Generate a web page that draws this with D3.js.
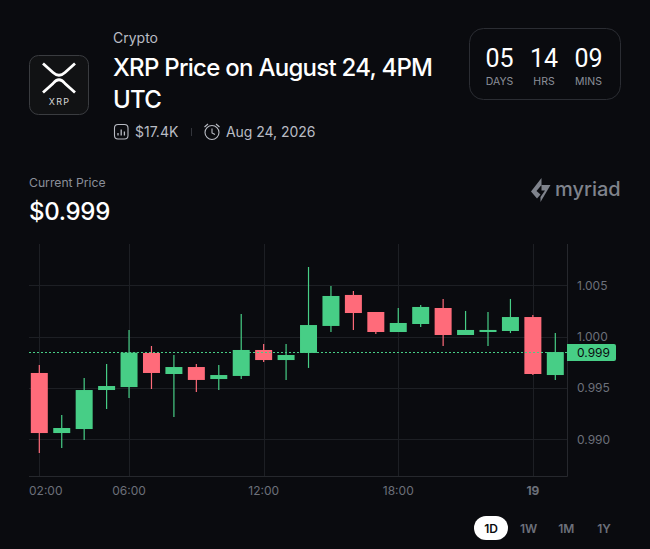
<!DOCTYPE html>
<html>
<head>
<meta charset="utf-8">
<script src="https://cdn.jsdelivr.net/npm/d3@7"></script>
<style>
  html, body { margin: 0; padding: 0; background: #0a0b0f; }
  svg { display: block; }
  text { font-family: Inter, sans-serif; }
</style>
</head>
<body>
<div id="chart"></div>
<script>
const hours = ["2026-08-18T02:00Z","2026-08-18T03:00Z","2026-08-18T04:00Z","2026-08-18T05:00Z","2026-08-18T06:00Z","2026-08-18T07:00Z","2026-08-18T08:00Z","2026-08-18T09:00Z","2026-08-18T10:00Z","2026-08-18T11:00Z","2026-08-18T12:00Z","2026-08-18T13:00Z","2026-08-18T14:00Z","2026-08-18T15:00Z","2026-08-18T16:00Z","2026-08-18T17:00Z","2026-08-18T18:00Z","2026-08-18T19:00Z","2026-08-18T20:00Z","2026-08-18T21:00Z","2026-08-18T22:00Z","2026-08-18T23:00Z","2026-08-19T00:00Z","2026-08-19T01:00Z"];
const opens  = [0.99646,0.99061,0.99100,0.99480,0.99509,0.99841,0.99636,0.99704,0.99587,0.99617,0.99870,0.99772,0.99841,1.00104,1.00406,1.00240,1.00045,1.00123,1.00279,1.00016,1.00045,1.00055,1.00191,0.99626];
const closes = [0.99061,0.99110,0.99480,0.99519,0.99844,0.99646,0.99704,0.99578,0.99626,0.99870,0.99772,0.99821,1.00113,1.00396,1.00230,1.00045,1.00133,1.00289,1.00016,1.00065,1.00065,1.00191,0.99636,0.99850];
const highs  = [0.99724,0.99237,0.99597,0.99733,1.00065,0.99909,0.99821,0.99733,0.99724,1.00220,0.99928,0.99928,1.00678,1.00493,1.00444,1.00240,1.00279,1.00308,1.00367,1.00250,1.00240,1.00367,1.00211,1.00035];
const lows   = [0.98867,0.98915,0.98993,0.99295,0.99402,0.99490,0.99217,0.99461,0.99480,0.99587,0.99753,0.99578,0.99695,1.00045,1.00065,1.00026,1.00045,1.00094,0.99909,1.00016,0.99909,1.00035,0.99626,0.99578];
const priceTicks = [1.005,1.000,0.995,0.990];
const timeTicks = [
  {t:"2026-08-18T02:00Z", label:"02:00", anchor:"start"},
  {t:"2026-08-18T06:00Z", label:"06:00"},
  {t:"2026-08-18T12:00Z", label:"12:00"},
  {t:"2026-08-18T18:00Z", label:"18:00"},
  {t:"2026-08-19T00:00Z", label:"19", bold:true}
];
const currentPrice = 0.9985;
const ranges = ["1D","1W","1M","1Y"];
const countdown = [["05","DAYS"],["14","HRS"],["09","MINS"]];

const width = 650, height = 549;
const up = "#47ce86", down = "#ff6b7a", grid = "#1d1f24", muted = "#6c707a";

const svg = d3.select("#chart").append("svg")
  .attr("width", width).attr("height", height);
svg.append("rect").attr("width", width).attr("height", height).attr("fill", "#0a0b0f");

// header
svg.append("rect").attr("x",29.5).attr("y",55.5).attr("width",59).attr("height",59).attr("rx",9)
  .attr("fill","#111214").attr("stroke","#3a3c40");
svg.append("path")
  .attr("d","M43 63.5 L53 72.5 Q59 78 65 72.5 L75 63.5 M43 92.5 L53 83.5 Q59 76 65 83.5 L75 92.5")
  .attr("fill","none").attr("stroke","#fff").attr("stroke-width",2.8);
svg.append("text").attr("x",59.5).attr("y",105).attr("text-anchor","middle")
  .attr("font-size",9).attr("letter-spacing",1.2).attr("fill","#d8d8d8").text("XRP");
svg.append("text").attr("x",113).attr("y",43).attr("font-size",14).attr("fill","#b9bcc4").text("Crypto");
const title = svg.append("text").attr("font-size",24).attr("font-weight",500).attr("fill","#fff").attr("letter-spacing",-0.73);
title.append("tspan").attr("x",113).attr("y",76).text("XRP Price on August 24, 4PM");
title.append("tspan").attr("x",113).attr("y",108).text("UTC");

svg.append("rect").attr("x",114.5).attr("y",124.5).attr("width",13.5).attr("height",14.5).attr("rx",3.5)
  .attr("fill","none").attr("stroke","#b9bcc4").attr("stroke-width",1.1);
svg.append("path").attr("d","M118 133V135.5M121.2 129.5V135.5M124.4 131.5V135.5").attr("stroke","#b9bcc4").attr("stroke-width",1.3);
svg.append("text").attr("x",135).attr("y",137).attr("font-size",14).attr("fill","#b9bcc4").text("$17.4K");
svg.append("line").attr("x1",191.5).attr("x2",191.5).attr("y1",128).attr("y2",136).attr("stroke","#33353b");
svg.append("circle").attr("cx",212).attr("cy",132.5).attr("r",7).attr("fill","none").attr("stroke","#b9bcc4").attr("stroke-width",1.1);
svg.append("path").attr("d","M212 128.5V133L215 134.5M204.5 127L208 124M219.5 127L216 124")
  .attr("fill","none").attr("stroke","#b9bcc4").attr("stroke-width",1.1);
svg.append("text").attr("x",226).attr("y",137).attr("font-size",14).attr("fill","#b9bcc4").attr("letter-spacing",-0.05).text("Aug 24, 2026");

// countdown box
svg.append("rect").attr("x",469.5).attr("y",28.5).attr("width",151).attr("height",71).attr("rx",14)
  .attr("fill","none").attr("stroke","#2b2d33");
const cdX = d3.scalePoint().domain(countdown.map(d => d[1])).range([499.5,588.5]);
countdown.forEach(d => {
  svg.append("text").attr("x",cdX(d[1])).attr("y",67).attr("text-anchor","middle")
    .style("font-family","Roboto, sans-serif")
    .attr("font-size",25).attr("font-weight",400).attr("fill","#fff").text(d[0]);
  svg.append("text").attr("x",cdX(d[1])).attr("y",85).attr("text-anchor","middle")
    .attr("font-size",10.5).attr("fill","#8b8f99").text(d[1]);
});

// current price
svg.append("text").attr("x",29).attr("y",187).attr("font-size",12.2).attr("fill","#8b8f99").text("Current Price");
svg.append("text").attr("x",29).attr("y",220).attr("font-size",24).attr("font-weight",500).attr("letter-spacing",-0.3).attr("fill","#fff").text("$0.999");

// myriad logo
svg.append("path")
  .attr("d","M541.5 178 L531 191.5 L537 198.5 L540.5 194.5 L536.5 191 L541.5 185 L550.5 185 L540.5 202 L540.5 197 L545 190.5 L541.5 190.5 Z")
  .attr("fill","#7f838c");
svg.append("text").attr("x",555).attr("y",195.5).attr("font-size",20).attr("font-weight",500).attr("fill","#7f838c").text("myriad");

// chart
const plot = {left:29, right:567.5, top:244, bottom:476.5};
const dates = hours.map(h => new Date(h));
const step = 22.435;
const x = d3.scaleUtc()
  .domain([dates[0], dates[dates.length-1]])
  .range([39.3, 39.3 + step*(dates.length-1)]);
const y = d3.scaleLinear().domain([0.990,1.005]).range([439.3,285.3]);

const gridG = svg.append("g").attr("stroke",grid).attr("stroke-width",1);
gridG.selectAll("line.h").data(priceTicks).enter().append("line")
  .attr("x1",plot.left).attr("x2",plot.right)
  .attr("y1",d => Math.round(y(d))+0.5).attr("y2",d => Math.round(y(d))+0.5);
gridG.selectAll("line.v").data(timeTicks).enter().append("line")
  .attr("x1",d => Math.round(x(new Date(d.t)))+0.5).attr("x2",d => Math.round(x(new Date(d.t)))+0.5)
  .attr("y1",plot.top).attr("y2",plot.bottom);
gridG.append("line").attr("x1",plot.left).attr("x2",plot.right).attr("y1",plot.bottom).attr("y2",plot.bottom).attr("stroke","#26282d");
gridG.append("line").attr("x1",plot.right).attr("x2",plot.right).attr("y1",plot.top).attr("y2",plot.bottom).attr("stroke","#26282d");

svg.selectAll("text.ylab").data(priceTicks).enter().append("text")
  .attr("x",577).attr("y",d => y(d)+4.3).attr("font-size",12).attr("fill",muted).text(d => d3.format(".3f")(d));
svg.selectAll("text.xlab").data(timeTicks).enter().append("text")
  .attr("x",d => d.anchor === "start" ? plot.left : x(new Date(d.t))).attr("y",495)
  .attr("text-anchor",d => d.anchor || "middle").attr("font-size",12)
  .attr("font-weight",d => d.bold ? 700 : 400).attr("fill",muted).text(d => d.label);

const candles = dates.map((d,i) => ({d, o:opens[i], c:closes[i], h:highs[i], l:lows[i]}));
const color = d => d.c >= d.o ? up : down;
svg.selectAll("line.wick").data(candles).enter().append("line")
  .attr("x1",d => x(d.d)).attr("x2",d => x(d.d))
  .attr("y1",d => y(d.h)).attr("y2",d => y(d.l))
  .attr("stroke",color).attr("stroke-width",1.2);

svg.selectAll("rect.body").data(candles).enter().append("rect")
  .attr("x",d => x(d.d)-8.5).attr("width",17)
  .attr("y",d => y(Math.max(d.o,d.c))).attr("height",d => Math.abs(y(d.o)-y(d.c)))
  .attr("fill",color);

// current price line on top of the candles
svg.append("line").attr("x1",plot.left).attr("x2",plot.right)
  .attr("y1",Math.floor(y(currentPrice))+0.5).attr("y2",Math.floor(y(currentPrice))+0.5)
  .attr("stroke",up).attr("stroke-width",1).attr("stroke-dasharray","2 2");

svg.append("path").attr("d","M567 344H614a2 2 0 0 1 2 2V359a2 2 0 0 1 -2 2H567Z").attr("fill",up);
svg.append("text").attr("x",577).attr("y",357).attr("font-size",12).attr("fill","#0a0b0f").text("0.999");

// range buttons
svg.append("rect").attr("x",474).attr("y",516).attr("width",34).attr("height",24).attr("rx",12).attr("fill","#fff");
const rX = d3.scalePoint().domain(ranges).range([491,604]);
svg.selectAll("text.range").data(ranges).enter().append("text")
  .attr("x",d => rX(d)).attr("y",533).attr("text-anchor","middle").attr("font-size",12).attr("font-weight",600)
  .attr("fill",(d,i) => i === 0 ? "#0a0b0f" : muted).text(d => d);
</script>
</body>
</html>
